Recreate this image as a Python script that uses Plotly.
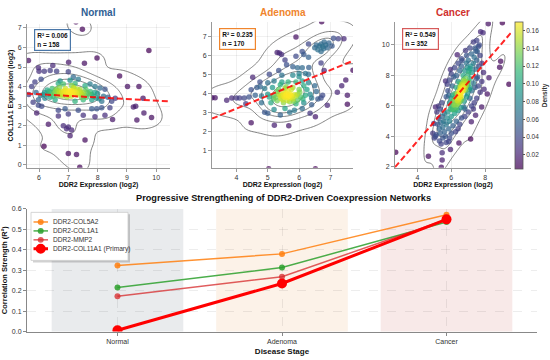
import numpy as np
import plotly.graph_objects as go

# ---------------- data ----------------
panel_names = ["Normal", "Adenoma", "Cancer"]
panel_r2 = [0.006, 0.235, 0.549]
panel_n = [158, 170, 352]
fit_slope = [-0.082, 0.678, 1.29]
fit_intercept = [4.10, 0.48, -1.48]

normal_pts = [
    (7.26, 7.30), (7.48, 6.93), (5.64, 5.33), (9.75, 5.84), (7.98, 5.46), (7.55, 5.19), (7.01, 5.24),
    (6.47, 5.08), (5.98, 4.96), (8.75, 4.54), (9.02, 4.00), (9.41, 4.00), (9.55, 3.40), (9.58, 2.65),
    (9.84, 2.42), (9.34, 2.29), (9.22, 2.95), (6.32, 2.07), (6.17, 0.95), (7.00, 0.58), (7.28, 0.53),
    (7.57, 1.27), (7.06, 1.49), (7.39, -0.12), (8.51, 2.32), (8.60, 3.40), (9.30, 3.00),
    (6.00, 4.79), (6.18, 4.79), (6.38, 4.82), (6.60, 4.79), (7.00, 4.76), (7.17, 4.49), (7.34, 4.37),
    (7.06, 4.32), (6.72, 4.29), (6.07, 4.37), (5.86, 4.24), (6.66, 4.16), (6.83, 4.13), (7.11, 4.05),
    (7.23, 4.16), (7.57, 4.04), (7.74, 4.13), (7.91, 4.00), (8.08, 3.93), (8.25, 3.87),
    (6.20, 3.70), (6.35, 3.75), (6.50, 3.65), (6.60, 3.80), (6.70, 3.70), (6.75, 3.60), (6.85, 3.75),
    (6.95, 3.65), (7.05, 3.80), (7.15, 3.70), (7.25, 3.60), (7.35, 3.75), (7.45, 3.65), (7.55, 3.55),
    (7.65, 3.70), (7.80, 3.60), (6.45, 3.90), (6.90, 3.90), (7.20, 3.90), (7.60, 3.85), (5.90, 3.70),
    (6.05, 3.55), (8.00, 3.65), (8.20, 3.50), (8.35, 3.45), (6.65, 3.55), (7.00, 3.55), (6.30, 3.60),
    (7.40, 3.85),
    (5.98, 3.33), (6.20, 3.40), (6.55, 3.33), (7.23, 3.25), (7.51, 3.33), (7.80, 3.33), (8.14, 3.25),
    (8.48, 3.25), (5.98, 3.05), (6.09, 3.00), (6.66, 2.79), (6.89, 2.87), (7.34, 2.79), (7.80, 2.87),
    (7.97, 2.87), (8.14, 2.92), (8.42, 2.92), (5.92, 2.65), (6.66, 2.49), (7.00, 2.60), (7.51, 2.54),
    (7.91, 2.46), (8.25, 2.54), (6.83, 2.00), (7.00, 1.94), (6.94, 1.85), (7.11, 1.78),
    (5.65, 3.60), (5.75, 4.00), (5.80, 3.20),
    (6.55, 3.72), (6.62, 3.68), (6.68, 3.78), (6.72, 3.64), (6.78, 3.74), (6.82, 3.66), (6.88, 3.80),
    (6.92, 3.72), (6.98, 3.62), (7.02, 3.74), (7.08, 3.68), (7.12, 3.78), (7.18, 3.62), (7.22, 3.74),
    (7.28, 3.68), (7.32, 3.58), (7.38, 3.66), (7.42, 3.72), (7.48, 3.60), (7.52, 3.70), (6.40, 3.68),
    (6.58, 3.86), (6.80, 3.52), (7.10, 3.50), (7.30, 3.88), (7.70, 3.62), (7.85, 3.50), (7.95, 3.42),
    (6.28, 3.82), (6.48, 3.50), (7.62, 3.45), (7.75, 3.75), (6.95, 3.45), (7.18, 3.95), (6.70, 3.95),
    (6.38, 3.45), (7.45, 3.45), (7.90, 3.70), (8.05, 3.38), (6.15, 3.60),
]

adenoma_pts = [
    (6.72, 7.78), (7.25, 6.88), (7.43, 6.88), (5.90, 6.97), (5.37, 6.13), (5.44, 6.05), (5.30, 6.15),
    (4.52, 4.84), (3.32, 3.76), (3.22, 3.76), (3.69, 3.63), (4.47, 2.45), (5.21, 2.31), (5.67, 2.28),
    (6.52, 2.76), (7.72, 5.22), (7.49, 4.70), (7.36, 4.40), (7.54, 3.89), (7.54, 3.42), (7.22, 4.06),
    (6.90, 3.37), (6.52, 0.02), (5.03, 0.02), (6.35, 2.95),
    (6.55, 6.55), (6.65, 6.50), (6.70, 6.60), (6.75, 6.45), (6.85, 6.55), (6.90, 6.40), (6.80, 6.70),
    (6.60, 6.30), (6.95, 6.65), (7.05, 6.50), (6.50, 6.40), (6.70, 6.20), (7.10, 6.90), (6.30, 6.60),
    (6.10, 6.20), (6.78, 6.35),
    (5.90, 5.95), (6.15, 6.05), (6.30, 5.90), (5.60, 5.50), (5.80, 5.40), (5.95, 5.35), (6.10, 5.35),
    (5.35, 5.20), (5.05, 5.00), (5.45, 4.95), (5.80, 4.95), (6.00, 5.05), (6.30, 5.00), (6.70, 5.60),
    (6.80, 5.20), (5.55, 5.75), (6.20, 5.04), (6.31, 5.36), (6.00, 4.87),
    (4.75, 4.60), (5.00, 4.55), (5.20, 4.65), (5.45, 4.60), (5.65, 4.60), (5.90, 4.60), (6.10, 4.65),
    (6.30, 4.55), (6.50, 4.40), (4.47, 4.18), (4.76, 4.35),
    (4.65, 4.30), (4.90, 4.25), (5.15, 4.30), (5.35, 4.20), (5.55, 4.25), (5.80, 4.30), (6.00, 4.20),
    (6.25, 4.20), (6.55, 4.10), (6.75, 3.90),
    (3.85, 3.75), (4.00, 3.75), (4.10, 3.75), (4.25, 3.75), (4.40, 3.80), (4.60, 3.90), (4.80, 3.85),
    (5.00, 3.95), (5.20, 3.90), (5.40, 3.85), (5.55, 3.80), (5.65, 3.85), (5.75, 3.90), (5.90, 3.85),
    (6.05, 3.80), (6.20, 3.90), (6.40, 3.75), (6.60, 3.70), (6.70, 3.75), (5.50, 3.95), (5.70, 3.75),
    (5.60, 4.00), (5.80, 3.70),
    (4.30, 3.45), (4.80, 3.50), (5.10, 3.50), (5.30, 3.60), (5.50, 3.50), (5.70, 3.55), (5.90, 3.45),
    (6.15, 3.50), (6.40, 3.40),
    (4.90, 3.00), (5.20, 3.15), (5.55, 3.20), (5.85, 3.10), (6.10, 3.20), (5.70, 3.00), (5.00, 2.95),
    (5.40, 2.85),
    (5.45, 3.88), (5.52, 3.82), (5.58, 3.92), (5.62, 3.78), (5.68, 3.86), (5.72, 3.95), (5.78, 3.80),
    (5.85, 3.92), (5.42, 3.72), (5.35, 3.95), (5.50, 4.08), (5.65, 4.12), (5.95, 3.95), (6.02, 4.05),
    (5.25, 3.78), (5.48, 3.65), (5.62, 3.62), (5.82, 3.58), (6.12, 3.70), (5.30, 4.08), (5.18, 3.70),
    (5.95, 3.65), (5.58, 4.35), (5.40, 4.45), (6.15, 4.40), (6.35, 3.95), (5.05, 3.80), (5.75, 4.20),
]

cancer_pts = [
    (8.18, 11.39), (7.73, 10.86), (7.87, 10.80), (9.01, 11.46), (7.53, 9.57), (6.84, 9.64), (6.35, 9.36),
    (6.64, 8.97), (8.91, 8.93), (8.85, 8.54), (9.40, 7.42), (8.22, 7.85), (7.93, 7.10), (8.12, 6.78),
    (7.79, 5.92), (5.76, 7.42), (5.66, 7.64), (5.95, 8.39), (5.07, 5.92), (5.26, 5.17), (4.97, 4.85),
    (4.91, 4.21), (5.07, 3.99), (5.85, 3.67), (6.45, 3.56), (7.14, 3.82), (5.95, 3.13), (5.46, 2.92),
    (5.46, 2.45), (2.72, 2.95), (4.65, 2.70), (5.41, 1.98), (6.74, 5.92), (7.43, 5.39), (7.18, 4.96),
    (5.20, 4.80), (5.30, 4.50), (5.35, 4.20), (5.40, 4.90), (5.45, 5.30), (5.50, 4.60), (5.55, 5.00),
    (5.60, 4.30), (5.60, 5.50), (5.70, 4.80), (5.75, 5.20), (5.80, 5.60), (5.50, 3.90), (5.30, 3.70),
    (5.40, 3.50), (5.65, 4.00), (5.85, 4.50), (5.90, 5.00), (6.00, 5.30), (6.10, 4.70), (5.15, 5.60),
    (5.25, 6.00), (5.35, 5.80), (5.45, 6.20), (5.10, 4.10), (5.00, 3.90), (5.70, 3.60), (6.20, 5.50),
    (6.30, 5.00), (6.25, 4.30),
    (6.00, 6.00), (6.10, 6.30), (6.20, 6.10), (6.30, 6.50), (6.35, 6.80), (6.40, 6.20), (6.45, 7.00),
    (6.50, 6.60), (6.55, 7.20), (6.60, 6.90), (6.65, 7.40), (6.70, 7.00), (6.75, 7.60), (6.80, 7.20),
    (6.85, 7.80), (6.90, 7.50), (6.60, 6.40), (6.50, 7.50), (6.40, 7.60), (6.30, 7.20), (6.20, 6.80),
    (6.10, 6.70), (6.00, 6.50), (5.90, 6.20), (5.85, 6.70), (6.70, 8.00), (6.80, 8.30), (7.00, 8.10),
    (7.00, 7.40), (7.10, 7.80), (7.20, 8.20), (6.95, 6.80), (7.05, 7.10), (6.90, 6.60), (6.75, 6.30),
    (6.55, 5.90), (6.40, 5.70), (6.80, 5.80), (7.10, 6.50), (7.20, 7.00), (6.30, 8.00), (6.50, 8.30),
    (6.60, 8.60), (6.90, 8.80), (7.00, 9.00), (7.15, 8.60), (7.30, 8.80), (7.35, 9.20), (7.40, 8.40),
    (7.50, 9.00), (7.45, 9.60), (7.20, 9.40), (7.60, 8.60), (7.50, 7.80), (7.30, 7.50), (7.40, 7.20),
    (7.55, 7.90), (7.40, 9.80), (7.60, 9.90), (7.30, 10.20), (7.50, 10.30), (7.65, 10.00), (7.70, 9.30),
    (7.10, 9.80), (6.90, 9.30), (6.60, 9.10), (6.40, 8.80), (6.20, 8.50), (6.00, 8.10), (5.90, 7.70),
    (6.05, 7.30), (5.80, 7.00), (5.70, 6.60), (7.80, 8.80), (7.90, 8.20), (7.80, 7.60), (7.60, 7.30),
    (7.70, 6.90), (7.50, 6.50), (7.35, 6.20), (7.30, 5.80), (7.00, 5.60), (6.80, 5.30), (6.60, 5.20),
    (6.50, 4.80), (6.40, 4.50), (6.00, 4.20), (5.90, 3.90), (7.20, 6.00), (6.10, 5.80), (6.15, 7.90),
    (5.95, 5.80), (6.65, 7.10), (6.55, 6.75), (6.75, 7.35), (6.45, 6.45), (6.85, 7.05), (6.35, 6.35),
    (6.45, 6.70), (6.50, 6.90), (6.55, 7.00), (6.60, 7.10), (6.68, 7.20), (6.70, 7.30),
    (6.78, 7.45), (6.82, 7.60), (6.58, 6.60), (6.48, 6.50), (6.42, 6.30), (6.38, 6.55),
    (6.52, 7.25), (6.62, 7.45), (6.72, 7.70), (6.88, 7.30),
    (6.35, 6.10), (6.30, 5.90), (6.05, 5.75), (6.25, 5.75), (7.05, 8.30), (7.10, 8.45), (6.95, 8.50),
    (6.20, 6.40), (6.15, 6.05), (7.00, 7.60), (7.10, 7.20), (6.50, 6.25),
]

stages = ["Normal", "Adenoma", "Cancer"]
series_names = ["DDR2-COL5A2", "DDR2-COL1A1", "DDR2-MMP2", "DDR2-COL11A1 (Primary)"]
r2_col5a2 = [0.323, 0.380, 0.572]
r2_col1a1 = [0.215, 0.313, 0.536]
r2_mmp2 = [0.173, 0.268, 0.548]
r2_col11a1 = [0.006, 0.235, 0.549]

# ---------------- styling ----------------
FONT = "Liberation Sans, Arial, sans-serif"
W, H = 550, 360
title_colors = ["#2f6094", "#f0852d", "#d0312d"]
box_colors = ["#4a77a8", "#f0852d", "#d65a5a"]
series_colors = ["rgba(255,127,14,0.85)", "rgba(44,160,44,0.85)", "rgba(214,39,40,0.75)", "#ff0000"]
series_widths = [1.5, 1.5, 1.5, 3]
series_msize = [6, 6, 6, 10]
band_colors = ["rgba(44,62,80,0.10)", "rgba(230,126,34,0.10)", "rgba(192,57,43,0.11)"]

viridis = ["#440154", "#482878", "#3e4989", "#31688e", "#26828e", "#1f9e89", "#35b779", "#6ece58",
           "#b5de2b", "#fde725"]


def rgba(h, a):
    h = h.lstrip("#")
    return "rgba(%d,%d,%d,%.2f)" % (int(h[0:2], 16), int(h[2:4], 16), int(h[4:6], 16), a)


cscale = [[i / (len(viridis) - 1), rgba(c, 0.72)] for i, c in enumerate(viridis)]

# panel geometry in pixels: (left, right, top, bottom)
panels_px = [(27, 170, 20, 167), (212, 353, 18, 167), (395, 511, 18, 167)]
xranges = [[5.59, 10.47], [3.22, 7.72], [2.68, 9.52]]
yranges = [[-0.15, 7.22], [0.07, 7.78], [1.94, 11.53]]
xticks = [[6, 7, 8, 9, 10], [4, 5, 6, 7], [4, 6, 8]]
yticks = [[0, 1, 2, 3, 4, 5, 6, 7], [1, 2, 3, 4, 5, 6, 7], [2, 4, 6, 8, 10]]


def fx(p):
    return p / W


def fy(p):
    return 1 - p / H


def gaussian_kde(px, py):
    data = np.vstack([px, py])
    n = data.shape[1]
    factor = n ** (-1.0 / 6)
    cov = np.cov(data) * factor ** 2
    inv = np.linalg.inv(cov)
    norm = 1.0 / (2 * np.pi * np.sqrt(np.linalg.det(cov)) * n)

    def ev(qx, qy):
        qx = np.ravel(qx)
        qy = np.ravel(qy)
        dx = qx[:, None] - data[0][None, :]
        dy = qy[:, None] - data[1][None, :]
        m = inv[0, 0] * dx * dx + 2 * inv[0, 1] * dx * dy + inv[1, 1] * dy * dy
        return np.exp(-0.5 * m).sum(axis=1) * norm

    return ev, np.sqrt(np.diag(cov))


fig = go.Figure()
datasets = [normal_pts, adenoma_pts, cancer_pts]
layout_axes = {}

for i, pts in enumerate(datasets):
    ax = "" if i == 0 else str(i + 1)
    xr, yr = "x" + ax, "y" + ax
    arr = np.array(pts, dtype=float)
    xs, ys = arr[:, 0], arr[:, 1]
    ev, bw = gaussian_kde(xs, ys)
    dens = ev(xs, ys)
    order = np.argsort(dens)
    marker = dict(size=5.5, color=dens[order], colorscale=cscale, cmin=dens.min(), cmax=dens.max(),
                  line=dict(width=0))
    if i == 2:
        marker.update(showscale=True, colorbar=dict(
            x=fx(515), xanchor="left", y=fy(18.3), yanchor="top", len=150 / H, lenmode="fraction",
            thickness=7.5, xpad=0, ypad=0, outlinewidth=0.8, outlinecolor="#555",
            ticks="outside", ticklen=2, tickcolor="#555", dtick=0.02, tickformat=".2f",
            tickfont=dict(size=6.5, color="#333", family=FONT),
            title=dict(text="Density", side="right", font=dict(size=6.5, family=FONT, weight="bold"))))
    fig.add_trace(go.Scatter(x=xs[order], y=ys[order], mode="markers", marker=marker,
                             xaxis=xr, yaxis=yr, showlegend=False, hoverinfo="skip"))

    # KDE contours (iso-proportion levels)
    gx = np.linspace(xs.min() - 3 * bw[0], xs.max() + 3 * bw[0], 140)
    gy = np.linspace(ys.min() - 3 * bw[1], ys.max() + 3 * bw[1], 140)
    GX, GY = np.meshgrid(gx, gy)
    Z = ev(GX, GY).reshape(GX.shape)
    vals = np.sort(Z.ravel())[::-1]
    cum = np.cumsum(vals) / vals.sum()
    for q in [0.05, 0.24, 0.43, 0.62, 0.81]:
        lev = vals[min(np.searchsorted(cum, 1 - q), len(vals) - 1)]
        fig.add_trace(go.Contour(x=gx, y=gy, z=Z, autocontour=False,
                                 contours=dict(start=lev, end=lev, size=1, coloring="none"),
                                 line=dict(color="rgba(90,90,90,0.75)", width=1),
                                 showscale=False, hoverinfo="skip", xaxis=xr, yaxis=yr))

    # regression line
    lx = np.array(xranges[i])
    fig.add_trace(go.Scatter(x=lx, y=fit_slope[i] * lx + fit_intercept[i], mode="lines",
                             line=dict(color="rgba(255,0,0,0.85)", width=2, dash="6px,3px"),
                             xaxis=xr, yaxis=yr, showlegend=False, hoverinfo="skip"))

    l, r, t, b = panels_px[i]
    layout_axes["xaxis" + ax] = dict(
        domain=[fx(l), fx(r)], range=xranges[i], tickvals=xticks[i], anchor=yr,
        showline=True, linecolor="#999", linewidth=1, ticks="outside", ticklen=3, tickcolor="#999",
        tickfont=dict(size=7, color="#333", family=FONT), showgrid=True, gridcolor="rgba(0,0,0,0.06)",
        zeroline=False, title=dict(text="DDR2 Expression (log2)", standoff=1,
                                   font=dict(size=7, family=FONT, weight="bold", color="#111")))
    layout_axes["yaxis" + ax] = dict(
        domain=[fy(b), fy(t)], range=yranges[i], tickvals=yticks[i], anchor=xr,
        showline=True, linecolor="#999", linewidth=1, ticks="outside", ticklen=3, tickcolor="#999",
        tickfont=dict(size=7, color="#333", family=FONT), showgrid=True, gridcolor="rgba(0,0,0,0.06)",
        zeroline=False)
    if i == 0:
        layout_axes["yaxis"]["title"] = dict(text="COL11A1 Expression (log2)", standoff=3,
                                             font=dict(size=7, family=FONT, weight="bold", color="#111"))

# ---------------- bottom line chart ----------------
series_vals = [r2_col5a2, r2_col1a1, r2_mmp2, r2_col11a1]
xpos = list(range(len(stages)))
for k, vals in enumerate(series_vals):
    fig.add_trace(go.Scatter(x=xpos, y=vals, mode="lines+markers", name=series_names[k],
                             line=dict(color=series_colors[k], width=series_widths[k]),
                             marker=dict(size=series_msize[k], color=series_colors[k]),
                             xaxis="x4", yaxis="y4", showlegend=False, hoverinfo="skip"))

layout_axes["xaxis4"] = dict(
    domain=[fx(27), fx(537)], range=[-0.55, 2.55], tickvals=xpos, ticktext=stages, anchor="y4",
    showline=True, linecolor="#888", linewidth=1, ticks="outside", ticklen=3, tickcolor="#888",
    tickfont=dict(size=7, color="#333", family=FONT), showgrid=True, gridcolor="rgba(0,0,0,0.07)",
    griddash="dash", zeroline=False,
    title=dict(text="Disease Stage", standoff=4, font=dict(size=8, family=FONT, weight="bold", color="#111")))
layout_axes["yaxis4"] = dict(
    domain=[fy(334), fy(209)], range=[0, 0.6], dtick=0.1, tickformat=".1f", anchor="x4",
    showline=True, linecolor="#888", linewidth=1, ticks="outside", ticklen=3, tickcolor="#888",
    tickfont=dict(size=7, color="#333", family=FONT), showgrid=True, gridcolor="rgba(0,0,0,0.07)",
    griddash="dash", zeroline=False,
    title=dict(text="Correlation Strength (R²)", standoff=4,
               font=dict(size=7.5, family=FONT, weight="bold", color="#111")))

shapes = []
for k in range(len(stages)):
    shapes.append(dict(type="rect", xref="x4", yref="y4 domain", x0=k - 0.4, x1=k + 0.4, y0=0, y1=1,
                       fillcolor=band_colors[k], line=dict(width=0), layer="below"))

annotations = []
for i in range(3):
    l, r, t, b = panels_px[i]
    annotations.append(dict(text="<b>%s</b>" % panel_names[i], x=fx((l + r) / 2), y=fy(8.5),
                            xref="paper", yref="paper", showarrow=False, xanchor="center", yanchor="middle",
                            font=dict(size=10, color=title_colors[i], family=FONT)))
    annotations.append(dict(text="<b>R² = %.3f<br>n = %d</b>" % (panel_r2[i], panel_n[i]),
                            x=fx(l + 7), y=fy(t + 6), xref="paper", yref="paper", showarrow=False,
                            xanchor="left", yanchor="top", align="left",
                            font=dict(size=6.5, color="#111", family=FONT),
                            bgcolor="rgba(255,255,255,0.9)", bordercolor=box_colors[i], borderwidth=1.2,
                            borderpad=2))

annotations.append(dict(text="<b>Progressive Strengthening of DDR2-Driven Coexpression Networks</b>",
                        x=fx(283), y=fy(198), xref="paper", yref="paper", showarrow=False,
                        xanchor="center", yanchor="middle", font=dict(size=9.2, color="#111", family=FONT)))

# custom legend (box, shadow, samples, labels)
lg_l, lg_r, lg_t, lg_b = 31, 128, 212.5, 261.5
shapes.append(dict(type="rect", xref="paper", yref="paper", x0=fx(lg_l + 2), x1=fx(lg_r + 2),
                   y0=fy(lg_b + 2), y1=fy(lg_t + 2), fillcolor="rgba(0,0,0,0.18)", line=dict(width=0),
                   layer="above"))
shapes.append(dict(type="rect", xref="paper", yref="paper", x0=fx(lg_l), x1=fx(lg_r),
                   y0=fy(lg_b), y1=fy(lg_t), fillcolor="white", line=dict(color="#cccccc", width=0.8),
                   layer="above"))
for k, name in enumerate(series_names):
    yy = 222.3 + 9.1 * k
    shapes.append(dict(type="line", xref="paper", yref="paper", x0=fx(33.5), x1=fx(48), y0=fy(yy), y1=fy(yy),
                       line=dict(color=series_colors[k], width=series_widths[k]), layer="above"))
    rr = series_msize[k] / 2
    shapes.append(dict(type="circle", xref="paper", yref="paper", x0=fx(40.7 - rr), x1=fx(40.7 + rr),
                       y0=fy(yy + rr), y1=fy(yy - rr), fillcolor=series_colors[k], line=dict(width=0),
                       layer="above"))
    annotations.append(dict(text=name, x=fx(51), y=fy(yy), xref="paper", yref="paper", showarrow=False,
                            xanchor="left", yanchor="middle", font=dict(size=6.6, color="#333", family=FONT)))

fig.update_layout(width=W, height=H, margin=dict(l=0, r=0, t=0, b=0), paper_bgcolor="white",
                  plot_bgcolor="white", showlegend=False, font=dict(family=FONT, size=7, color="#333"),
                  shapes=shapes, annotations=annotations, **layout_axes)

fig.write_html("out.html", config={"displayModeBar": False},
               post_script="document.body.style.margin='0';document.body.style.overflow='hidden';")
